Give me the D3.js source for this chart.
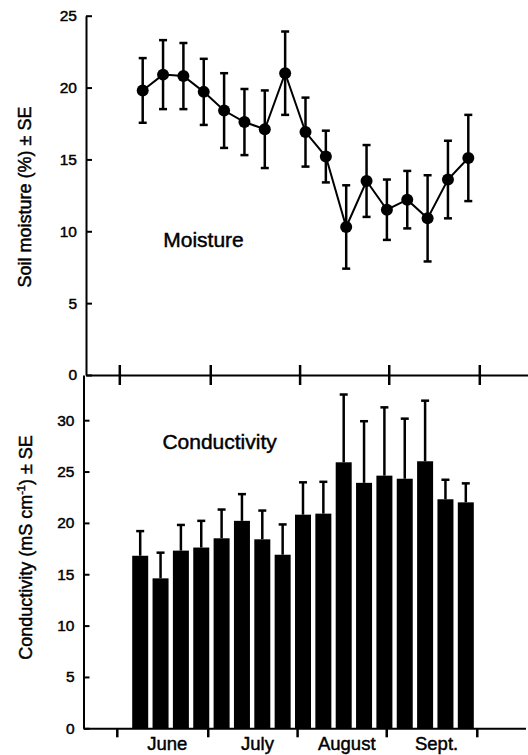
<!DOCTYPE html>
<html>
<head>
<meta charset="utf-8">
<script src="https://cdn.jsdelivr.net/npm/d3@7"></script>
<style>
  html, body { margin: 0; padding: 0; background: #fff; }
  svg { display: block; font-family: "Liberation Sans", Arial, Helvetica, sans-serif; }
  svg text { fill: #000; stroke: #000; stroke-width: 0.45px; }
</style>
</head>
<body>
<div id="chart"></div>
<script>
// weekly sampling occasions, June - Sept.
const weeks = [1, 2, 3, 4, 5, 6, 7, 8, 9, 10, 11, 12, 13, 14, 15, 16, 17];
const moisture = [19.8, 20.9, 20.8, 19.7, 18.4, 17.6, 17.1, 21.0, 16.9, 15.2, 10.3, 13.5, 11.5, 12.2, 10.9, 13.6, 15.1];
const moistureSE = [2.25, 2.4, 2.3, 2.3, 2.6, 2.3, 2.7, 2.9, 2.4, 1.8, 2.9, 2.5, 2.1, 2.0, 3.0, 2.7, 3.0];
const conductivity = [16.8, 14.6, 17.3, 17.6, 18.5, 20.2, 18.4, 16.9, 20.8, 20.9, 25.9, 23.9, 24.6, 24.3, 26.0, 22.3, 22.0];
const conductivitySE = [2.4, 2.5, 2.5, 2.6, 2.8, 2.6, 2.8, 2.95, 3.15, 3.1, 6.6, 6.0, 6.65, 5.85, 5.9, 1.9, 1.85];
const months = ["June", "July", "August", "Sept."];
const monthBreaks = [-0.15, 4.32, 8.71, 13.09, 17.54]; // in week units
const moistureTicks = [0, 5, 10, 15, 20, 25];
const conductivityTicks = [0, 5, 10, 15, 20, 25, 30];

const width = 528, height = 755;
const axisX = 86;

const svg = d3.select("#chart").append("svg")
  .attr("width", width)
  .attr("height", height);

const x = d3.scaleLinear().domain([1, 17]).range([142.7, 468.3]);
// same mapping, stretched to run from the y axis to the right edge
const xAxisScale = x.copy().domain([x.invert(axisX), x.invert(width)]).range([axisX, width]);

const yTop = d3.scaleLinear().domain([0, 25]).range([375, 15.7]);
const yBot = d3.scaleLinear().domain([0, 34.4]).range([728.3, 375]);

const styleAxis = g => {
  g.selectAll("path.domain").attr("stroke", "#000").attr("stroke-width", 2);
  g.selectAll(".tick line").attr("stroke", "#000").attr("stroke-width", 2);
  g.selectAll(".tick text")
    .attr("fill", "#000")
    .style("font-size", "15.5px")
    .style("font-family", "\"Liberation Sans\", Arial, sans-serif");
};

// ---------- top panel: moisture ----------
const topPanel = svg.append("g");

topPanel.append("g")
  .attr("transform", `translate(${axisX},0)`)
  .call(d3.axisLeft(yTop).tickValues(moistureTicks).tickSizeInner(-6).tickSizeOuter(0).tickPadding(9))
  .call(styleAxis);

topPanel.append("g")
  .attr("transform", `translate(0,${yTop(0)})`)
  .call(d3.axisBottom(xAxisScale).tickValues(monthBreaks).tickSizeInner(10).tickSizeOuter(0).tickFormat(""))
  .call(styleAxis)
  .call(g => g.selectAll(".tick line").attr("y1", -10).attr("stroke-width", 2.5));

const line = d3.line().x((d, i) => x(weeks[i])).y(d => yTop(d));
topPanel.append("path")
  .datum(moisture)
  .attr("fill", "none")
  .attr("stroke", "#000")
  .attr("stroke-width", 2)
  .attr("d", line);

const errTop = topPanel.append("g").attr("stroke", "#000").attr("stroke-width", 2.5);
weeks.forEach((w, i) => {
  const lo = yTop(moisture[i] - moistureSE[i]);
  const hi = yTop(moisture[i] + moistureSE[i]);
  errTop.append("line").attr("x1", x(w)).attr("x2", x(w)).attr("y1", lo).attr("y2", hi);
  errTop.append("line").attr("x1", x(w) - 4).attr("x2", x(w) + 4).attr("y1", lo).attr("y2", lo);
  errTop.append("line").attr("x1", x(w) - 4).attr("x2", x(w) + 4).attr("y1", hi).attr("y2", hi);
});

topPanel.selectAll("circle")
  .data(moisture)
  .join("circle")
  .attr("cx", (d, i) => x(weeks[i]))
  .attr("cy", d => yTop(d))
  .attr("r", 6)
  .attr("fill", "#000");

topPanel.append("text")
  .attr("x", x(2.01))
  .attr("y", yTop(8.93))
  .style("font-size", "21px")
  .text("Moisture");

topPanel.append("text")
  .attr("transform", `translate(31,197) rotate(-90)`)
  .attr("text-anchor", "middle")
  .style("font-size", "18px")
  .text("Soil moisture (%) \u00b1 SE");

// ---------- bottom panel: conductivity ----------
const botPanel = svg.append("g").attr("transform", "translate(-2.5,0)");

botPanel.append("g")
  .attr("transform", `translate(${axisX},0)`)
  .call(d3.axisLeft(yBot).tickValues(conductivityTicks).tickSizeInner(-6).tickSizeOuter(0).tickPadding(9))
  .call(styleAxis);

botPanel.append("g")
  .attr("transform", `translate(0,${yBot(0)})`)
  .call(d3.axisBottom(xAxisScale).tickValues(monthBreaks).tickSizeInner(9).tickSizeOuter(0).tickFormat(""))
  .call(styleAxis)
  .call(g => g.selectAll(".tick line").attr("stroke-width", 2.5));

const barW = 16;
botPanel.selectAll("rect.bar")
  .data(conductivity)
  .join("rect")
  .attr("class", "bar")
  .attr("x", (d, i) => x(weeks[i]) - barW / 2)
  .attr("y", d => yBot(d))
  .attr("width", barW)
  .attr("height", d => yBot(0) - yBot(d))
  .attr("fill", "#000");

const errBot = botPanel.append("g").attr("stroke", "#000").attr("stroke-width", 2.5);
weeks.forEach((w, i) => {
  const hi = yBot(conductivity[i] + conductivitySE[i]);
  errBot.append("line").attr("x1", x(w)).attr("x2", x(w)).attr("y1", yBot(conductivity[i])).attr("y2", hi);
  errBot.append("line").attr("x1", x(w) - 4).attr("x2", x(w) + 4).attr("y1", hi).attr("y2", hi);
});

botPanel.append("text")
  .attr("x", x(2.09))
  .attr("y", yBot(27.2))
  .style("font-size", "21px")
  .text("Conductivity");

botPanel.selectAll("text.month")
  .data(months)
  .join("text")
  .attr("class", "month")
  .attr("x", (d, i) => x((monthBreaks[i] + monthBreaks[i + 1]) / 2 + 0.25))
  .attr("y", 750)
  .attr("text-anchor", "middle")
  .style("font-size", "18.5px")
  .text(d => d);

const ylab = svg.append("text")
  .attr("transform", `translate(32,547.5) rotate(-90)`)
  .attr("text-anchor", "middle")
  .style("font-size", "18px");
ylab.append("tspan").text("Conductivity (mS cm");
ylab.append("tspan").attr("dy", -7).style("font-size", "11px").text("-1");
ylab.append("tspan").attr("dy", 7).text(") \u00b1 SE");
</script>
</body>
</html>
